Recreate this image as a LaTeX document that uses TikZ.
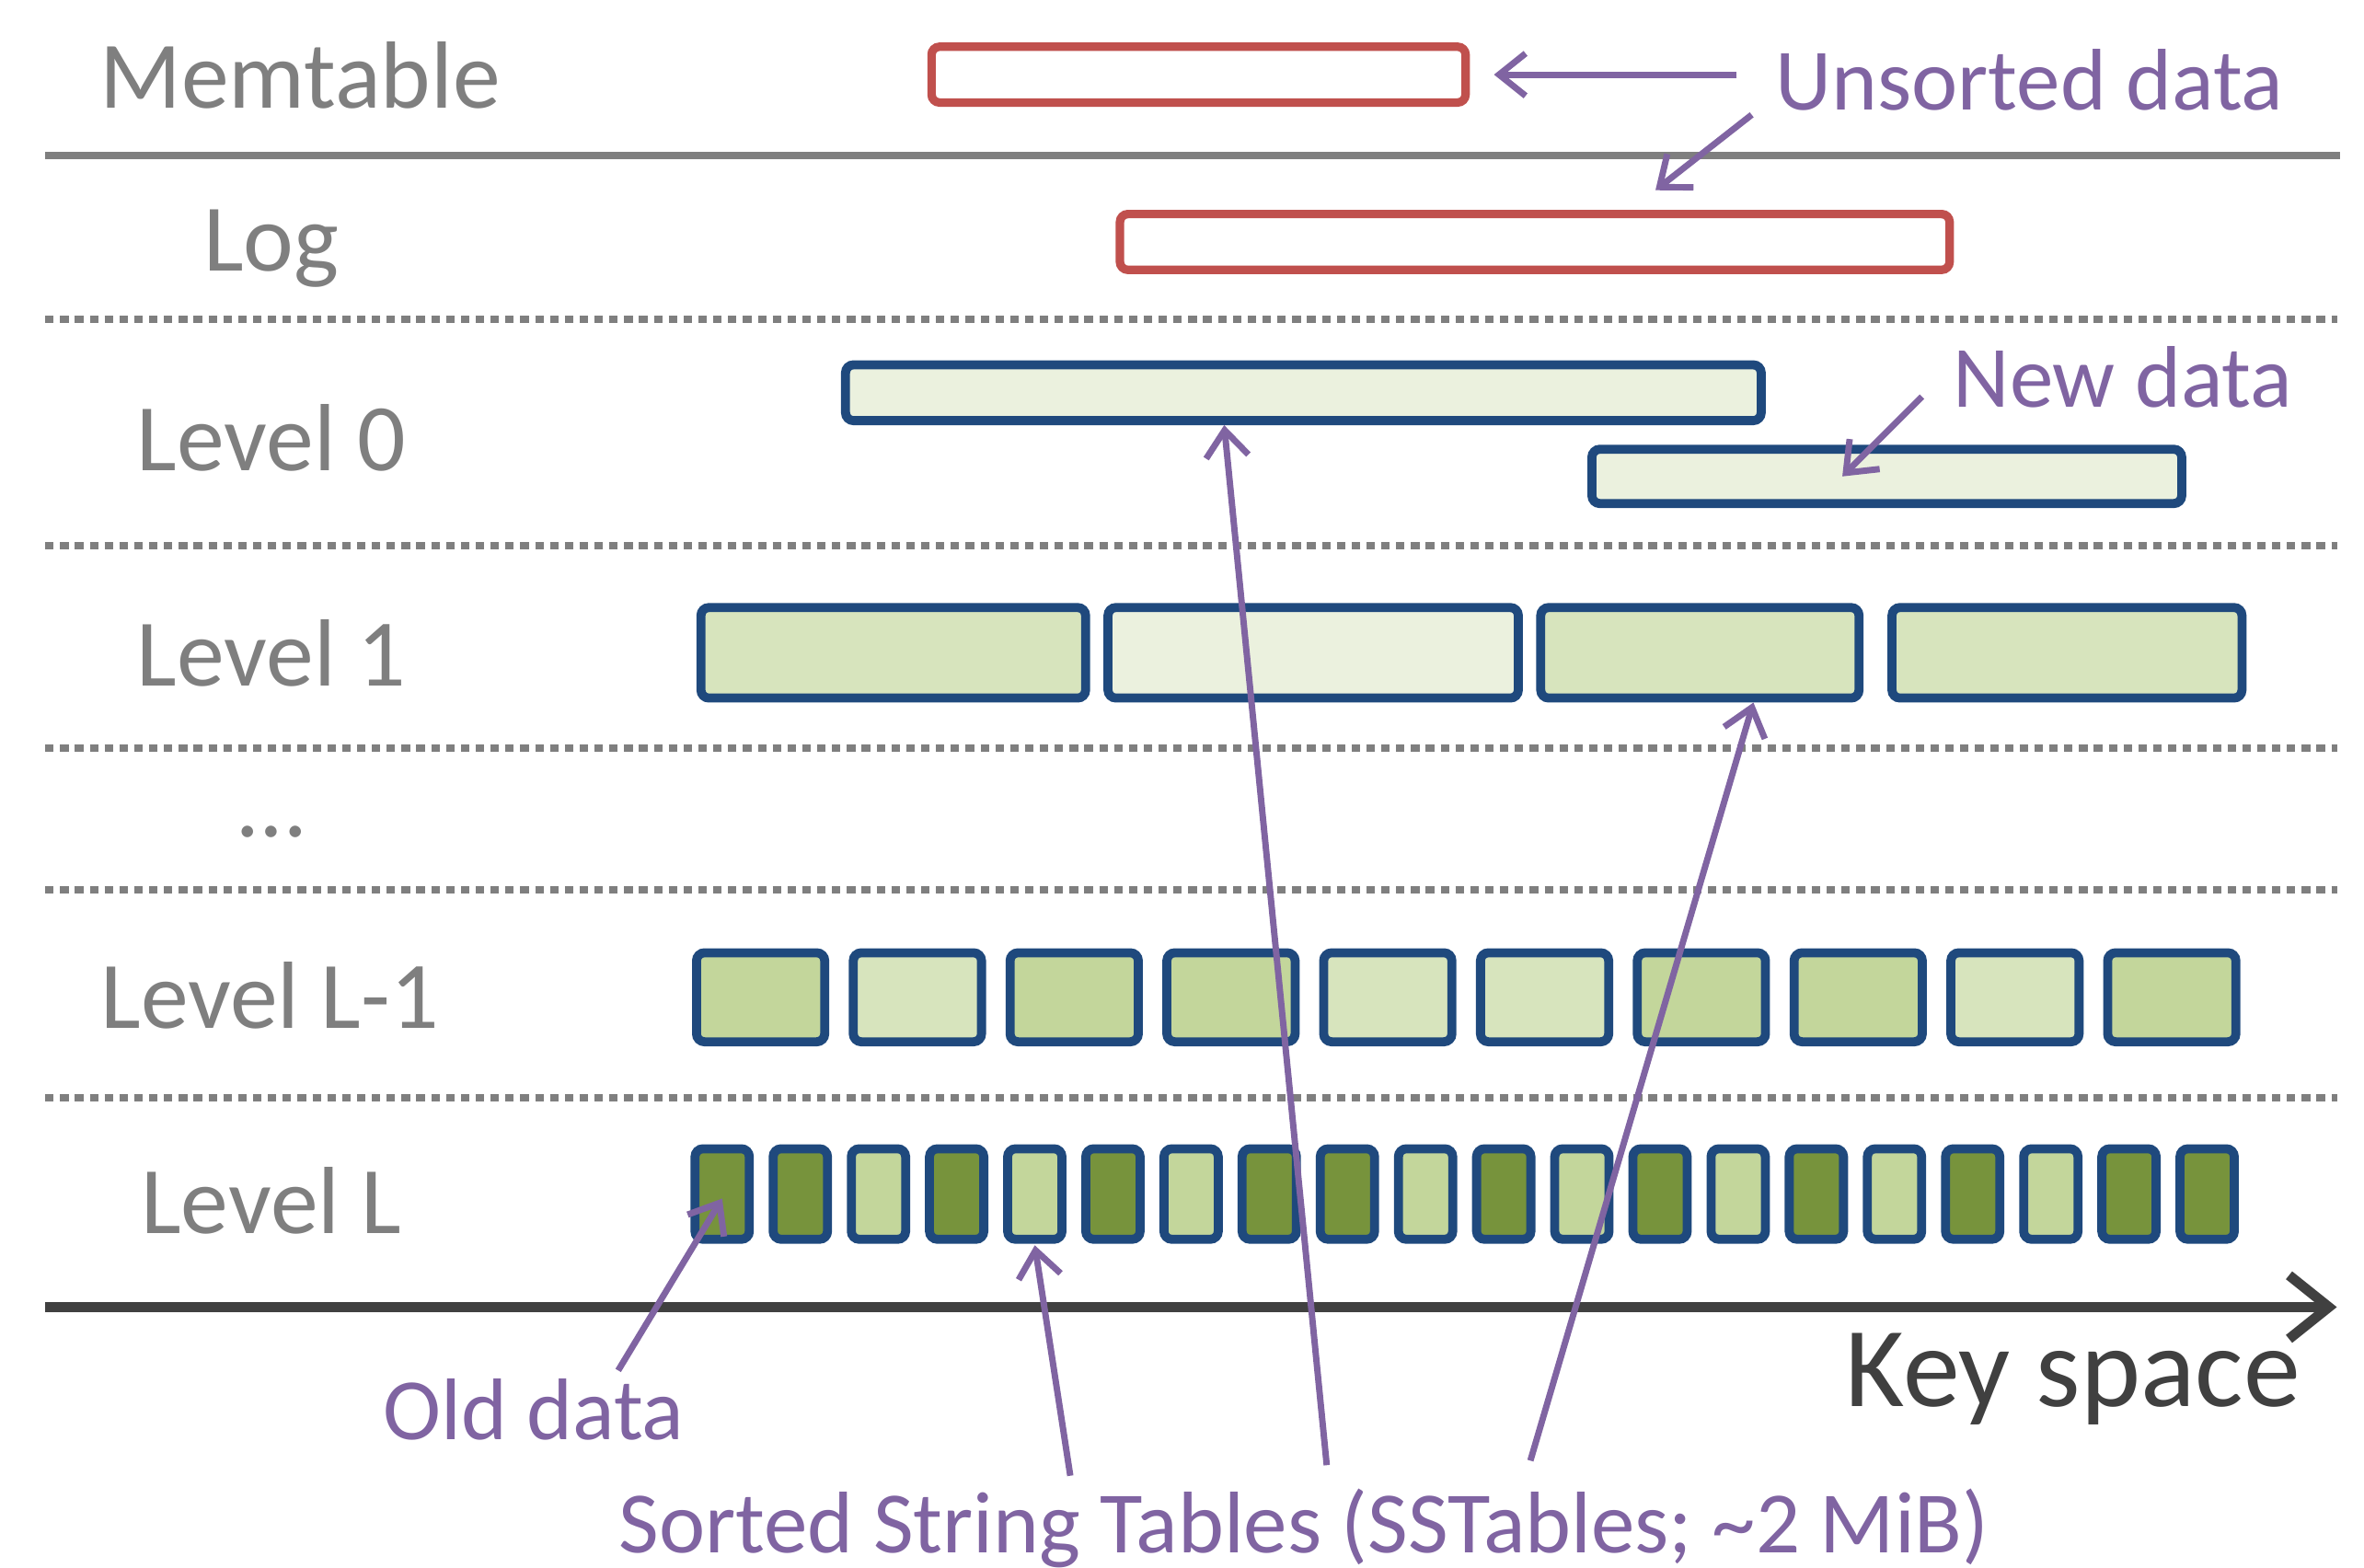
\documentclass[tikz,border=0pt]{standalone}
\usepackage{fontspec}
\setmainfont{Carlito}
\usepackage{xcolor}
\usepackage{tikz}
\usetikzlibrary{arrows.meta, calc}

\definecolor{lblgray}{HTML}{7F7F7F}
\definecolor{notepurple}{HTML}{8064A2}
\definecolor{logred}{HTML}{C0504D}
\definecolor{sstblue}{HTML}{1F497D}
\definecolor{fillpale}{HTML}{EBF1DE}
\definecolor{filllight}{HTML}{D7E4BD}
\definecolor{fillmid}{HTML}{C3D69B}
\definecolor{filldark}{HTML}{77933C}
\definecolor{axisgray}{HTML}{404040}

\begin{document}
\begin{tikzpicture}[x=0.01cm, y=-0.01cm,
  lvl/.style    = {font=\fontsize{18}{21}\selectfont, text=lblgray,
                   anchor=base, inner sep=0pt},
  note/.style   = {font=\fontsize{16.5}{19}\selectfont, text=notepurple,
                   anchor=base, inner sep=0pt},
  membox/.style = {draw=logred, fill=white, line width=1.6pt,
                   rounded corners=1.5pt, inner sep=0pt,
                   minimum height=0.37cm},
  sst/.style    = {draw=sstblue, line width=1.7pt, rounded corners=1.5pt,
                   inner sep=0pt},
  sep/.style    = {lblgray, line width=1.4pt},
  dsep/.style   = {lblgray, line width=1.4pt, dash pattern=on 1.6pt off 1.2pt},
  parr/.style   = {-{Straight Barb[length=5pt,width=8pt]},
                   notepurple, line width=1.2pt},
  axarr/.style  = {-{Straight Barb[length=7.5pt,width=12pt]},
                   axisgray, line width=1.9pt},
]
\useasboundingbox (0,0) rectangle (1568,1040);

%% Row labels
\node[lvl] (memlbl)  at (199, 72)  {Memtable};
\node[lvl] (loglbl)  at (180, 180) {Log};
\node[lvl] (lv0lbl)  at (180, 312) {Level 0};
\node[lvl] (lv1lbl)  at (180, 455) {Level 1};
\node[lvl] (dotslbl) at (180, 555) {…};
\node[lvl] (lvm1lbl) at (179, 682) {Level L-1};
\node[lvl] (lvLlbl)  at (180, 818) {Level L};

%% Separators
\draw[sep]  (30,103) -- (1552,103);
\foreach \y in {212, 362, 496, 590, 728}
  \draw[dsep] (30,\y) -- (1550,\y);

%% Memtable and log
\node[membox, minimum width=3.54cm] (mem) at (795, 49.5)  {};
\node[membox, minimum width=5.50cm] (log) at (1018, 160.5) {};

%% Level 0
\node[sst, fill=fillpale, minimum width=6.07cm, minimum height=0.37cm]
  (l0a) at (864.5, 260.5) {};
\node[sst, fill=fillpale, minimum width=3.91cm, minimum height=0.36cm]
  (l0b) at (1251.5, 316) {};

%% Level 1
\node[sst, fill=filllight, minimum width=2.55cm, minimum height=0.60cm]
  (l1a) at (592.5, 433) {};
\node[sst, fill=fillpale,  minimum width=2.72cm, minimum height=0.60cm]
  (l1b) at (871, 433) {};
\node[sst, fill=filllight, minimum width=2.11cm, minimum height=0.60cm]
  (l1c) at (1127.5, 433) {};
\node[sst, fill=filllight, minimum width=2.32cm, minimum height=0.60cm]
  (l1d) at (1371, 433) {};

%% Level L-1
\foreach \i/\f in {0/fillmid, 1/filllight, 2/fillmid, 3/fillmid, 4/filllight,
                   5/filllight, 6/fillmid, 7/fillmid, 8/filllight, 9/fillmid}
  \node[sst, fill=\f, minimum width=0.85cm, minimum height=0.59cm]
    (lm\i) at ({504.5+104*\i}, 661.5) {};

%% Level L
\foreach \i/\f in {0/filldark, 1/filldark, 2/fillmid, 3/filldark, 4/fillmid,
                   5/filldark, 6/fillmid, 7/filldark, 8/filldark, 9/fillmid,
                   10/filldark, 11/fillmid, 12/filldark, 13/fillmid, 14/filldark,
                   15/fillmid, 16/filldark, 17/fillmid, 18/filldark, 19/filldark}
  \node[sst, fill=\f, minimum width=0.36cm, minimum height=0.60cm]
    (lL\i) at ({479+51.84*\i}, 792) {};

%% Key axis
\coordinate (axstart) at (30, 867);
\coordinate (axend)   at (1550, 867);
\draw[axarr] (axstart) -- (axend);
\node[font=\fontsize{21.5}{24}\selectfont, text=axisgray, anchor=base,
      inner sep=0pt] (keysp) at (1375, 933) {Key space};

%% Notes
\node[note] (unsorted) at (1346, 73)  {Unsorted data};
\node[note] (newdata)  at (1408, 270) {New data};
\node[note] (olddata)  at (354, 955)  {Old data};
\node[note] (sorted)   at (865, 1030)
  {Sorted String Tables (SSTables; \textasciitilde2 MiB)};

\draw[parr, shorten <=0.25cm, shorten >=0.16cm]
  (mem.east -| unsorted.west) -- (mem.east);
\draw[parr] ([xshift=-0.15cm,yshift=-0.02cm]unsorted.south west)
  -- ([xshift=0.80cm,yshift=0.13cm]log.north);
\draw[parr] ([xshift=-0.2cm,yshift=0.08cm]newdata.south west)
  -- ([xshift=-0.295cm]l0b.center);
\draw[parr] ([xshift=0.56cm,yshift=0.05cm]olddata.north)
  -- ([yshift=-0.03cm]lL0.center);
\draw[parr] ([xshift=-1.55cm,yshift=0.08cm]sorted.north)
  -- ([yshift=-0.01cm]lL4.south);
\draw[parr] ([xshift=0.15cm,yshift=0.15cm]sorted.north)
  -- ([xshift=-0.525cm]l0a.south);
\draw[parr] ([xshift=1.50cm,yshift=0.18cm]sorted.north)
  -- ([xshift=0.355cm]l1c.south);

\end{tikzpicture}
\end{document}
